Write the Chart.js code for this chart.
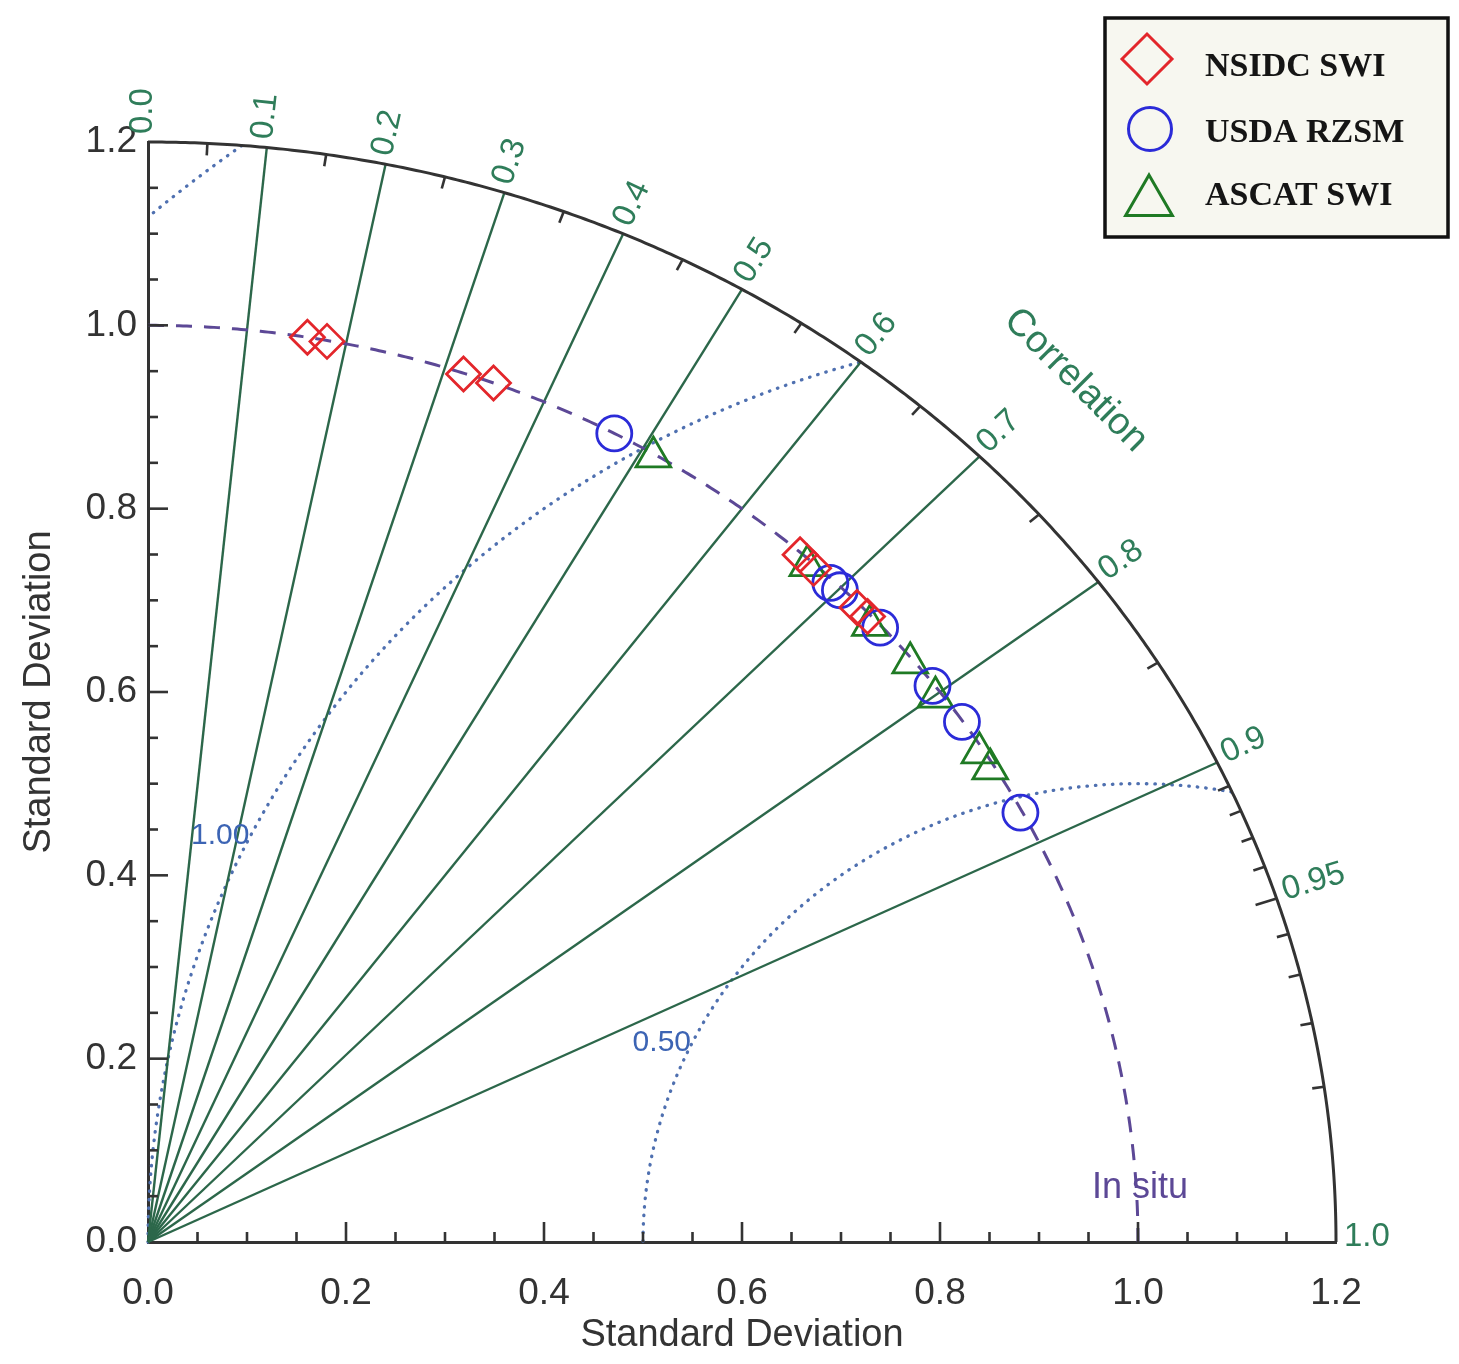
<!DOCTYPE html>
<html>
<head>
<meta charset="utf-8">
<script src="https://cdn.jsdelivr.net/npm/chart.js@4/dist/chart.umd.min.js"></script>
<style>
html,body{margin:0;padding:0;background:#ffffff;}
canvas{display:block;}
</style>
</head>
<body>
<canvas id="c" width="1459" height="1364"></canvas>
<script>
// ---------------- data (normalised standard deviation, correlation) ----------------
const seriesNames = ['NSIDC SWI', 'USDA RZSM', 'ASCAT SWI'];

const nsidcStd  = [1.000, 0.999, 0.999, 1.000, 0.998, 0.996, 0.996, 0.997];
const nsidcCorr = [0.161, 0.181, 0.319, 0.349, 0.660, 0.675, 0.719, 0.729];

const usdaStd   = [1.000, 0.996, 0.997, 0.998, 0.998, 0.999, 0.998];
const usdaCorr  = [0.471, 0.692, 0.701, 0.741, 0.794, 0.823, 0.883];

const ascatStd  = [0.997, 0.994, 0.992, 0.996, 0.993, 0.995, 0.995];
const ascatCorr = [0.512, 0.670, 0.735, 0.773, 0.801, 0.844, 0.855];

// ---------------- axes / grid definitions ----------------
const stdTicks      = [0.0, 0.2, 0.4, 0.6, 0.8, 1.0, 1.2];
const stdTickLabels = ['0.0', '0.2', '0.4', '0.6', '0.8', '1.0', '1.2'];
const maxStd = 1.2;
const refStd = 1.0;
const corrLines      = [0.1, 0.2, 0.3, 0.4, 0.5, 0.6, 0.7, 0.8, 0.9];
const corrLabels     = [0.0, 0.1, 0.2, 0.3, 0.4, 0.5, 0.6, 0.7, 0.8, 0.9, 0.95, 1.0];
const corrLabelText  = ['0.0','0.1','0.2','0.3','0.4','0.5','0.6','0.7','0.8','0.9','0.95','1.0'];
const corrMinorTicks = [0.05,0.15,0.25,0.35,0.45,0.55,0.65,0.75,0.85,0.91,0.92,0.93,0.94,0.96,0.97,0.98,0.99];
const corrMajorTicks = [0.95];
const rmsContours    = [0.5, 1.0, 1.5];
const rmsLabelText   = ['0.50', '1.00'];
const rmsLabelValue  = [0.5, 1.0];

function toXY(stds, corrs) {
  return stds.map((s, i) => ({ x: s * corrs[i], y: s * Math.sqrt(1 - corrs[i] * corrs[i]) }));
}

const SANS = '"Liberation Sans", Arial, Helvetica, sans-serif';
const GREEN_LINE = '#2c674a';
const GREEN_TEXT = '#2f7d5a';
const BLUE_DOT = '#4f70b0';
const BLUE_TEXT = '#3c64b4';
const PURPLE = '#5c4896';
const AXIS = '#333333';

const colors = { nsidc: '#e3262b', usda: '#2b2bd8', ascat: '#1f7a24' };

// ---------------- Taylor grid plugin ----------------
const taylorGrid = {
  id: 'taylorGrid',
  beforeDatasetsDraw(chart) {
    const ctx = chart.ctx;
    const xs = chart.scales.x, ys = chart.scales.y;
    const X = v => xs.getPixelForValue(v);
    const Y = v => ys.getPixelForValue(v);
    const X0 = X(0), Y0 = Y(0);
    ctx.save();

    // RMS difference contours (dotted)
    ctx.strokeStyle = BLUE_DOT;
    ctx.lineWidth = 3.3;
    ctx.lineCap = 'round';
    ctx.setLineDash([0.5, 8]);
    rmsContours.forEach(R => {
      ctx.beginPath();
      let pen = false;
      for (let i = 0; i <= 1440; i++) {
        const phi = Math.PI * i / 1440;
        const x = refStd + R * Math.cos(phi), y = R * Math.sin(phi);
        if (x >= 0 && y >= 0 && x * x + y * y <= maxStd * maxStd) {
          if (!pen) { ctx.moveTo(X(x), Y(y)); pen = true; } else ctx.lineTo(X(x), Y(y));
        } else pen = false;
      }
      ctx.stroke();
    });
    ctx.setLineDash([]);
    ctx.lineCap = 'butt';

    // correlation rays
    ctx.strokeStyle = GREEN_LINE;
    ctx.lineWidth = 2.4;
    corrLines.forEach(c => {
      const s = Math.sqrt(1 - c * c);
      ctx.beginPath();
      ctx.moveTo(X0, Y0);
      ctx.lineTo(X(maxStd * c), Y(maxStd * s));
      ctx.stroke();
    });

    // reference std arc (dashed)
    ctx.strokeStyle = PURPLE;
    ctx.lineWidth = 3;
    ctx.setLineDash([16, 12]);
    ctx.beginPath();
    for (let i = 0; i <= 400; i++) {
      const t = (Math.PI / 2) * (1 - i / 400);
      const px = X(refStd * Math.cos(t)), py = Y(refStd * Math.sin(t));
      if (i === 0) ctx.moveTo(px, py); else ctx.lineTo(px, py);
    }
    ctx.stroke();
    ctx.setLineDash([]);

    // outer arc
    ctx.strokeStyle = AXIS;
    ctx.lineWidth = 3;
    ctx.beginPath();
    for (let i = 0; i <= 400; i++) {
      const t = (Math.PI / 2) * i / 400;
      const px = X(maxStd * Math.cos(t)), py = Y(maxStd * Math.sin(t));
      if (i === 0) ctx.moveTo(px, py); else ctx.lineTo(px, py);
    }
    ctx.stroke();

    // arc ticks (pointing inward)
    const arcTick = (c, len) => {
      const s = Math.sqrt(1 - c * c);
      const px = X(maxStd * c), py = Y(maxStd * s);
      let dx = X0 - px, dy = Y0 - py;
      const n = Math.hypot(dx, dy); dx /= n; dy /= n;
      ctx.beginPath();
      ctx.moveTo(px, py);
      ctx.lineTo(px + dx * len, py + dy * len);
      ctx.stroke();
    };
    ctx.lineWidth = 2.6;
    corrMinorTicks.forEach(c => arcTick(c, 12));
    corrMajorTicks.forEach(c => arcTick(c, 22));

    // axis ticks (inward)
    for (let k = 1; k < 24; k++) {
      const v = k * 0.05;
      const major = (k % 4 === 0);
      const len = major ? 20 : 10;
      ctx.beginPath();
      ctx.moveTo(X(v), Y0);
      ctx.lineTo(X(v), Y0 - len);
      ctx.stroke();
      ctx.beginPath();
      ctx.moveTo(X0, Y(v));
      ctx.lineTo(X0 + len, Y(v));
      ctx.stroke();
    }

    // correlation labels
    ctx.fillStyle = GREEN_TEXT;
    ctx.font = '33px ' + SANS;
    ctx.textAlign = 'left';
    ctx.textBaseline = 'middle';
    corrLabels.forEach((c, i) => {
      const s = Math.sqrt(1 - c * c);
      const px = X(maxStd * c), py = Y(maxStd * s);
      let dx = px - X0, dy = py - Y0;
      const n = Math.hypot(dx, dy); dx /= n; dy /= n;
      const ang = Math.atan2(dy, dx);
      ctx.save();
      ctx.translate(px + dx * 8, py + dy * 8);
      ctx.rotate(ang);
      ctx.fillText(corrLabelText[i], 0, -5);
      ctx.restore();
    });

    // "Correlation" title
    ctx.save();
    ctx.font = '38px ' + SANS;
    ctx.textAlign = 'center';
    ctx.translate(X(0.937), Y(0.94));
    ctx.rotate(Math.PI / 4);
    ctx.fillText('Correlation', 0, 0);
    ctx.restore();

    // RMS labels
    ctx.fillStyle = BLUE_TEXT;
    ctx.font = '30px ' + SANS;
    ctx.textAlign = 'center';
    const rmsPos = { 0.5: [0.519, 0.217], 1.0: [0.073, 0.443] };
    rmsLabelValue.forEach((r, i) => {
      const p = rmsPos[r];
      ctx.fillText(rmsLabelText[i], X(p[0]), Y(p[1]));
    });

    // "In situ" label
    ctx.fillStyle = PURPLE;
    ctx.font = '36px ' + SANS;
    ctx.fillText('In situ', X(1.002), Y(0.059));

    ctx.restore();
  }
};

// ---------------- legend plugin ----------------
const boxLegend = {
  id: 'boxLegend',
  afterDraw(chart) {
    const ctx = chart.ctx;
    ctx.save();
    ctx.fillStyle = '#f7f7f0';
    ctx.fillRect(1105, 18, 343, 219);
    ctx.strokeStyle = '#111111';
    ctx.lineWidth = 3.5;
    ctx.strokeRect(1105, 18, 343, 219);

    const entries = [
      { style: 'rectRot', color: colors.nsidc, r: 25, x: 1147, y: 59, ty: 76 },
      { style: 'circle', color: colors.usda, r: 21.5, x: 1150, y: 129, ty: 142 },
      { style: 'triangle', color: colors.ascat, r: 27, x: 1149, y: 202, ty: 205 }
    ];
    entries.forEach((e, i) => {
      ctx.strokeStyle = e.color;
      ctx.fillStyle = 'rgba(0,0,0,0)';
      ctx.lineWidth = 3;
      Chart.helpers.drawPoint(ctx, { pointStyle: e.style, radius: e.r, rotation: 0, borderWidth: 3 }, e.x, e.y);
      ctx.fillStyle = '#151515';
      ctx.font = 'bold 34px "Liberation Serif", "Times New Roman", serif';
      ctx.textAlign = 'left';
      ctx.textBaseline = 'alphabetic';
      ctx.fillText(seriesNames[i], 1205, e.ty);
    });
    ctx.restore();
  }
};

// ---------------- chart ----------------
const mkSet = (label, data, style, color, radius) => ({
  label, data,
  pointStyle: style,
  pointRadius: radius,
  pointBorderColor: color,
  borderColor: color,
  pointBackgroundColor: 'rgba(0,0,0,0)',
  backgroundColor: 'rgba(0,0,0,0)',
  pointBorderWidth: 2.8,
  showLine: false
});

new Chart(document.getElementById('c'), {
  type: 'scatter',
  data: {
    datasets: [
      mkSet(seriesNames[0], toXY(nsidcStd, nsidcCorr), 'rectRot', colors.nsidc, 17),
      mkSet(seriesNames[1], toXY(usdaStd, usdaCorr), 'circle', colors.usda, 17.5),
      mkSet(seriesNames[2], toXY(ascatStd, ascatCorr), 'triangle', colors.ascat, 20)
    ]
  },
  options: {
    responsive: false,
    maintainAspectRatio: false,
    animation: false,
    events: [],
    devicePixelRatio: 1,
    layout: { padding: { left: 0, top: 142, right: 123, bottom: 0 } },
    plugins: { legend: { display: false }, tooltip: { enabled: false }, title: { display: false } },
    scales: {
      x: {
        type: 'linear', min: 0, max: maxStd,
        afterBuildTicks: s => { s.ticks = stdTicks.map(v => ({ value: v })); },
        afterFit: s => { s.height = 122; },
        ticks: {
          autoSkip: false, maxRotation: 0,
          callback: (v) => stdTickLabels[stdTicks.indexOf(Math.round(v * 10) / 10)] ?? v.toFixed(1),
          font: { size: 37, family: SANS }, color: '#333333', padding: 30
        },
        grid: { display: false, drawTicks: false },
        border: { display: true, color: AXIS, width: 3 },
        title: { display: true, text: 'Standard Deviation', font: { size: 38, family: SANS }, color: '#333333', padding: { top: 0, bottom: 6 } }
      },
      y: {
        type: 'linear', min: 0, max: maxStd,
        afterBuildTicks: s => { s.ticks = stdTicks.map(v => ({ value: v })); },
        afterFit: s => { s.width = 148; },
        ticks: {
          autoSkip: false,
          callback: (v) => stdTickLabels[stdTicks.indexOf(Math.round(v * 10) / 10)] ?? v.toFixed(1),
          font: { size: 37, family: SANS }, color: '#333333', padding: 11
        },
        grid: { display: false, drawTicks: false },
        border: { display: true, color: AXIS, width: 3 },
        title: { display: true, text: 'Standard Deviation', font: { size: 38, family: SANS }, color: '#333333', padding: { top: 17, bottom: 0 } }
      }
    }
  },
  plugins: [taylorGrid, boxLegend]
});
</script>
</body>
</html>
